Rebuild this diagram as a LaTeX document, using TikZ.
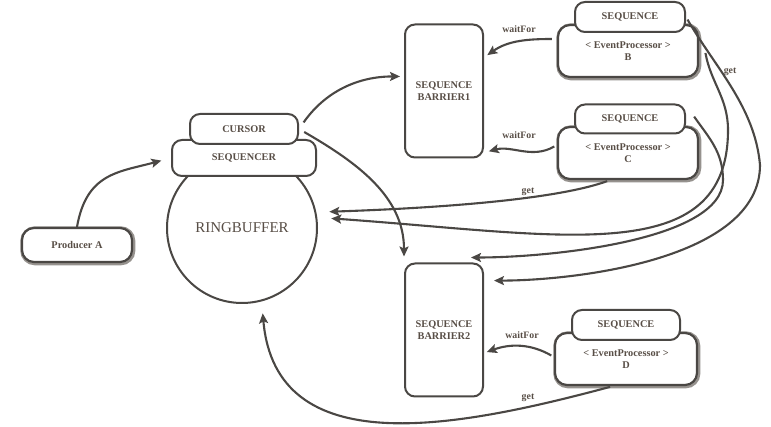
\documentclass[tikz,border=0pt]{standalone}
\usepackage{fontspec}
\setmainfont{Liberation Serif}
\usetikzlibrary{arrows.meta}
\definecolor{inkgray}{RGB}{74,71,68}
\definecolor{txtbrown}{RGB}{88,78,70}
\definecolor{smudge}{RGB}{150,146,142}

\begin{document}
\begin{tikzpicture}[x=1pt, y=1pt, ->, >={Stealth[length=10pt,width=9pt,inset=2pt]}, line width=2.1pt, inkgray,
  every node/.style={text=txtbrown, font=\bfseries\fontsize{10.3}{12}\selectfont, inner sep=0pt},
  plainbox/.style={draw=inkgray, fill=white, rounded corners=10pt, line width=2pt},
  roughbox/.style={plainbox, rounded corners=12pt, line width=2.2pt, align=center,
    preaction={draw=smudge, line width=5pt, transform canvas={shift={(0.8pt,-0.8pt)}}}},
  barrier/.style={plainbox, minimum width=78pt, minimum height=133pt, align=center},
  lbl/.style={font=\bfseries\fontsize{9.8}{11}\selectfont}]
\path[use as bounding box, fill=white] (0,0) rectangle (771,-427);

\node[roughbox, minimum width=110pt, minimum height=34pt] (prodA) at (77,-245) {Producer A};
\node[circle, draw=inkgray, line width=2pt, minimum size=150pt, font=\fontsize{15}{16}\selectfont] (ring) at (242,-228) {RINGBUFFER};
\node[plainbox, minimum width=144pt, minimum height=36pt] (seqr) at (244,-158) {SEQUENCER};
\node[plainbox, minimum width=108pt, minimum height=30pt] (cursor) at (244,-129) {CURSOR};

\node[barrier] (bar1) at (444,-91) {SEQUENCE\\BARRIER1};
\node[barrier] (bar2) at (444,-330) {SEQUENCE\\BARRIER2};

\node[roughbox, minimum width=140pt, minimum height=52pt] (epB) at (628,-51) {< EventProcessor >\\B};
\node[plainbox, minimum width=110pt, minimum height=30pt] (seqB) at (630,-17) {SEQUENCE};
\node[roughbox, minimum width=140pt, minimum height=52pt] (epC) at (628,-153) {< EventProcessor >\\C};
\node[plainbox, minimum width=110pt, minimum height=29pt] (seqC) at (630,-119) {SEQUENCE};
\node[roughbox, minimum width=142pt, minimum height=52pt] (epD) at (626,-359) {< EventProcessor >\\D};
\node[plainbox, minimum width=108pt, minimum height=30pt] (seqD) at (626,-325) {SEQUENCE};

\node[lbl] (waitB) at (519,-29) {waitFor};
\node[lbl] (waitC) at (519,-135) {waitFor};
\node[lbl] (waitD) at (522,-335) {waitFor};
\node[lbl] (getB) at (730,-72) {get};
\node[lbl] (getC) at (528,-192) {get};
\node[lbl] (getD) at (528,-398) {get};

\coordinate (turnA) at (760,-165);
\coordinate (turnB) at (728,-130);
\coordinate (turnC) at (723,-180);
\coordinate (intoBar2) at ([shift={(-13pt,5pt)}]bar2.north east);

\draw[shorten >=10pt] (prodA.north) to[out=80,in=195,looseness=1.2] (seqr.west);
\draw[shorten <=8pt, shorten >=4pt] (cursor.east) to[out=55,in=180] (bar1.160);
\draw[shorten <=6pt, shorten >=6pt] (cursor.east) to[out=-30,in=90] (bar2.north west);

\draw[shorten <=5pt, shorten >=4pt] ([yshift=12pt]epB.west) to[out=180,in=35] (bar1.40);
\draw[shorten <=3pt, shorten >=5pt] ([yshift=8pt]epC.west) to[out=210,in=15] (bar1.-57);
\draw[shorten <=3pt, shorten >=3pt] ([yshift=2pt]epD.west) to[out=150,in=20] (bar2.-30);

\draw[shorten <=3pt, shorten >=13pt] ([xshift=-18pt]epC.south) to[out=200,in=2,looseness=0.6] (ring.12);
\draw[shorten <=3pt, shorten >=12pt] ([xshift=-13pt]epD.south) to[out=195,in=-85,looseness=1.15] (ring.-75);

\draw[shorten <=3pt, shorten >=10pt] (seqB.east) to[out=-60,in=95,looseness=0.9] (turnA)
  to[out=-90,in=0,out distance=95pt,in distance=89pt] (bar2.51);
\draw[shorten <=2pt, shorten >=14pt] ([xshift=6pt]epB.east) to[out=-80,in=90] (turnB)
  to[out=-90,in=-4,out distance=140pt,in distance=245pt] (ring.8);
\draw[shorten <=2pt] ([xshift=7pt,yshift=4pt]seqC.east) to[out=-55,in=90] (turnC)
  to[out=-90,in=0,out distance=60pt,in distance=80pt] (intoBar2);
\end{tikzpicture}
\end{document}
